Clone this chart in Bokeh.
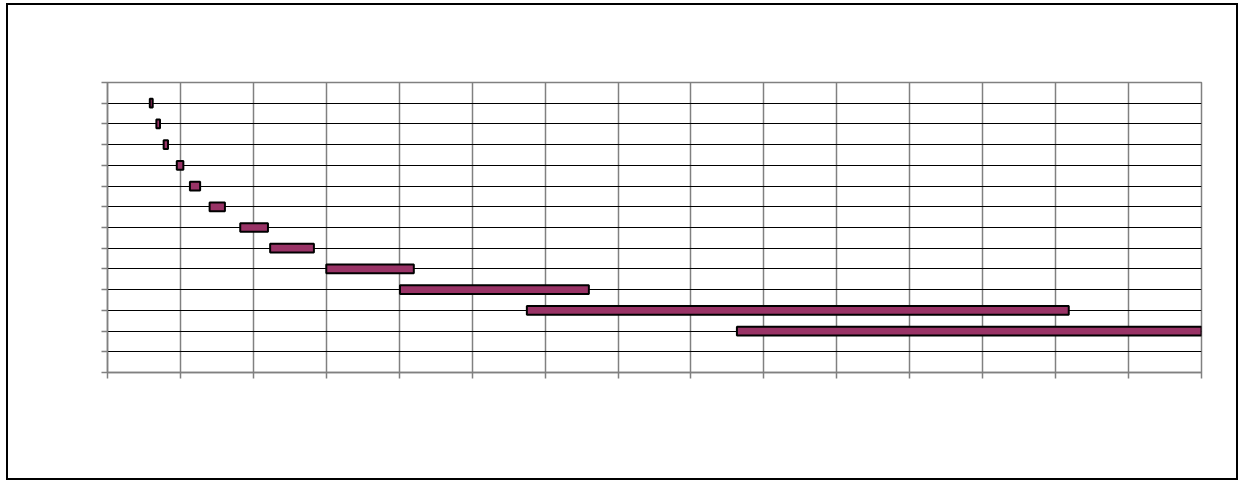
from bokeh.plotting import figure
from bokeh.models import FixedTicker, Range1d, ColumnDataSource
from bokeh.embed import file_html
from bokeh.resources import INLINE

# Task rows (top to bottom) and their start / end positions on the x scale
tasks = ["T1", "T2", "T3", "T4", "T5", "T6", "T7", "T8", "T9", "T10", "T11", "T12"]
starts = [0.58, 0.67, 0.77, 0.95, 1.13, 1.40, 1.82, 2.23, 3.00, 4.01, 5.75, 8.63]
ends = [0.62, 0.72, 0.83, 1.04, 1.27, 1.61, 2.20, 2.83, 4.20, 6.60, 13.18, 15.00]
rows = [13, 12, 11, 10, 9, 8, 7, 6, 5, 4, 3, 2]

x_ticks = list(range(0, 16))
y_ticks = list(range(0, 15))

src = ColumnDataSource(dict(task=tasks, left=starts, right=ends, y=rows))

p = figure(width=1232, height=477, output_backend="svg", toolbar_location=None,
           x_range=Range1d(0, 15), y_range=Range1d(0, 14),
           min_border_left=101, min_border_right=37, min_border_top=79, min_border_bottom=108,
           background_fill_color="white", border_fill_color=None)
p.styles = {"box-shadow": "inset 0 0 0 2px black", "background-color": "white",
            "margin-left": "6px", "margin-top": "3px"}

p.hbar(y="y", left="left", right="right", height=0.42, source=src,
       fill_color="#993366", line_color="black", line_width=2)

p.outline_line_color = "#808080"
p.outline_line_width = 1.5

p.xgrid.ticker = FixedTicker(ticks=x_ticks)
p.ygrid.ticker = FixedTicker(ticks=y_ticks)
p.xgrid.grid_line_color = "#808080"
p.xgrid.grid_line_width = 1.5
p.ygrid.grid_line_color = "black"
p.ygrid.grid_line_width = 1

for ax, ticks in ((p.xaxis, x_ticks), (p.yaxis, y_ticks)):
    ax.ticker = FixedTicker(ticks=ticks)
    ax.major_label_text_color = None
    ax.major_label_text_font_size = "0pt"
    ax.minor_tick_line_color = None
    ax.major_tick_in = 0
    ax.major_tick_out = 6
    ax.major_tick_line_color = "#808080"
    ax.major_tick_line_width = 1.5
    ax.axis_line_color = "#808080"
    ax.axis_line_width = 1.5

open("out.html", "w").write(file_html(p, INLINE))
